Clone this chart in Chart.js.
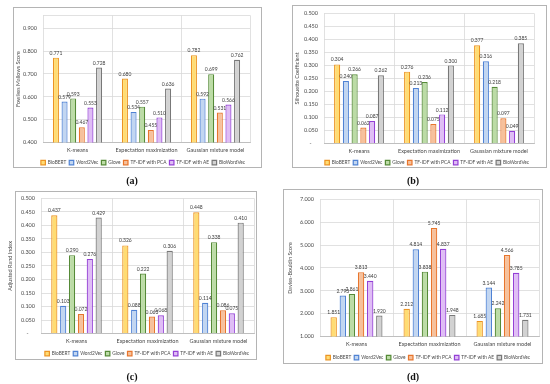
<!DOCTYPE html>
<html>
<head>
<meta charset="utf-8">
<script src="https://cdn.jsdelivr.net/npm/chart.js@4.4.0/dist/chart.umd.min.js"></script>
<style>
  html, body { margin: 0; padding: 0; background: #fff; }
  body { width: 550px; height: 384px; position: relative; overflow: hidden; font-family: Lato, sans-serif; }
  .box { position: absolute; border: 1px solid #b4b4b4; box-sizing: border-box; }
  canvas { position: absolute; }
  .cap { position: absolute; font: bold 10px 'Liberation Serif', serif; color: #111; transform: translate(-50%, -50%); }
</style>
</head>
<body>
<script>
const methods = ['BioBERT', 'Word2Vec', 'Glove', 'TF-IDF with PCA', 'TF-IDF with AE', 'BioWordVec'];
const algorithms = ['K-means', 'Expectation maximization', 'Gaussian mixture model'];

// one row per method, one column per algorithm
const fowlkesMallows = [
  [0.771, 0.680, 0.782],
  [0.579, 0.534, 0.592],
  [0.593, 0.557, 0.699],
  [0.467, 0.455, 0.531],
  [0.553, 0.510, 0.566],
  [0.728, 0.636, 0.762]
];
const silhouette = [
  [0.304, 0.276, 0.377],
  [0.240, 0.213, 0.316],
  [0.266, 0.236, 0.218],
  [0.062, 0.075, 0.097],
  [0.087, 0.112, 0.049],
  [0.262, 0.300, 0.385]
];
const adjustedRand = [
  [0.437, 0.326, 0.448],
  [0.103, 0.088, 0.114],
  [0.290, 0.222, 0.338],
  [0.072, 0.063, 0.086],
  [0.276, 0.068, 0.075],
  [0.429, 0.306, 0.410]
];
const daviesBouldin = [
  [1.851, 2.212, 1.685],
  [2.793, 4.814, 3.144],
  [2.861, 3.838, 2.242],
  [3.813, 5.745, 4.566],
  [3.440, 4.837, 3.785],
  [1.920, 1.948, 1.731]
];

const fillColors = ['#FFDC73', '#C2D6F1', '#BCDCA6', '#F6C19C', '#DFBDF5', '#D2D2D2'];
const edgeColors = ['#EC9424', '#4F82D4', '#558A37', '#E8752C', '#9440D6', '#787878'];

// layout per panel (page px): box, plot rect, y-title x, category label y, legend centre, caption
const panels = [
  { data: fowlkesMallows, title: 'Fowlkes Mallows Score', min: 0.4, max: 0.956, step: 0.1, dash: false,
    box: [13, 7, 262, 168], plot: [43, 14, 250, 143], titleX: 18, labelY: 151, legend: [143, 163], cap: ['(a)', 132, 180] },
  { data: silhouette, title: 'Silhouette Coefficient', min: 0, max: 0.5, step: 0.05, dash: true,
    box: [292, 5, 547, 168], plot: [324, 12, 534, 144], titleX: 297, labelY: 152, legend: [427, 163], cap: ['(b)', 413, 180] },
  { data: adjustedRand, title: 'Adjusted Rand Index', min: 0, max: 0.5, step: 0.05, dash: true,
    box: [15, 191, 257, 360], plot: [41, 197, 254, 334], titleX: 10, labelY: 342, legend: [147, 354], cap: ['(c)', 132, 376] },
  { data: daviesBouldin, title: 'Davies-Bouldin Score', min: 1, max: 7, step: 1, dash: false,
    box: [283, 189, 543, 364], plot: [320, 198, 539, 337], titleX: 290, labelY: 345, legend: [428, 358], cap: ['(d)', 413, 376] }
];

const valueLabels = {
  id: 'valueLabels',
  afterDatasetsDraw(chart) {
    const ctx = chart.ctx;
    ctx.save();
    ctx.font = '5px Lato';
    ctx.fillStyle = '#404040';
    ctx.textAlign = 'center';
    ctx.textBaseline = 'bottom';
    chart.data.datasets.forEach((ds, i) => {
      chart.getDatasetMeta(i).data.forEach((bar, j) => {
        ctx.fillText(ds.data[j].toFixed(3), bar.x, bar.y - 2);
      });
    });
    ctx.restore();
  }
};

const shiftLegend = {
  id: 'shiftLegend',
  afterLayout(chart, args, opts) {
    if (!chart.legend || !opts.dx) return;
    chart.legend.left += opts.dx;
    chart.legend.right += opts.dx;
  }
};

const TICK = 5.5, LEG = 4.8, LEG_BOX = 4.5, LEG_PAD = 3;

panels.forEach(p => {
  const [bl, bt, br, bb] = p.box;
  const box = document.createElement('div');
  box.className = 'box';
  Object.assign(box.style, { left: bl + 'px', top: bt + 'px', width: (br - bl) + 'px', height: (bb - bt) + 'px' });
  document.body.appendChild(box);

  const [pl, pt, pr, pb] = p.plot;
  const cl = pl - 42, ct = pt - 8, padR = 6;
  const itemH = Math.max(LEG, LEG_BOX);
  const legendTop = p.legend[1] - LEG_PAD - itemH / 2;
  const hx = legendTop - pb;
  const cw = Math.round(pr + padR - cl);
  const ch = Math.round(legendTop + itemH + LEG_PAD + 10 - ct);
  const lh = TICK * 1.2;

  const cv = document.createElement('canvas');
  cv.width = cw; cv.height = ch;
  Object.assign(cv.style, { left: cl + 'px', top: ct + 'px', width: cw + 'px', height: ch + 'px' });
  document.body.appendChild(cv);

  const dx = p.legend[0] - (cl + (cw - padR) / 2);

  new Chart(cv, {
    type: 'bar',
    data: {
      labels: algorithms,
      datasets: methods.map((m, i) => ({
        label: m,
        data: p.data[i],
        backgroundColor: fillColors[i],
        borderColor: edgeColors[i],
        borderWidth: 1.2,
        categoryPercentage: 0.75,
        barPercentage: 0.7
      }))
    },
    options: {
      responsive: false,
      animation: false,
      devicePixelRatio: 1,
      layout: { padding: { left: 0, top: 8, right: padR, bottom: 0 } },
      plugins: {
        legend: {
          position: 'bottom',
          labels: {
            boxWidth: LEG_BOX, boxHeight: LEG_BOX, padding: LEG_PAD,
            color: '#4a4a4a', font: { family: 'Lato', size: LEG }
          }
        },
        tooltip: { enabled: false },
        shiftLegend: { dx }
      },
      scales: {
        x: {
          grid: { offset: true, color: '#d9d9d9', lineWidth: 0.8, drawTicks: false },
          border: { color: '#bfbfbf' },
          ticks: { color: '#4a4a4a', font: { family: 'Lato', size: TICK }, padding: p.labelY - pb - lh / 2, maxRotation: 0 },
          afterFit: s => { s.height = hx; }
        },
        y: {
          min: p.min, max: p.max,
          grid: { color: '#d9d9d9', lineWidth: 0.8, drawTicks: false },
          border: { display: false },
          ticks: {
            stepSize: p.step, padding: 6, color: '#4a4a4a', font: { family: 'Lato', size: TICK },
            callback: v => {
              const k = v / p.step;
              if (Math.abs(k - Math.round(k)) > 1e-6) return '';
              if (Math.abs(v) < 1e-9 && p.dash) return '-\u2007\u2007';
              return Number(v).toFixed(3);
            }
          },
          title: {
            display: true, text: p.title, color: '#4a4a4a',
            font: { family: 'Lato', size: TICK },
            padding: { top: p.titleX - cl - lh / 2, bottom: 0 }
          },
          afterFit: s => { s.width = pl - cl; }
        }
      }
    },
    plugins: [valueLabels, shiftLegend]
  });

  const cap = document.createElement('div');
  cap.className = 'cap';
  cap.textContent = p.cap[0];
  Object.assign(cap.style, { left: p.cap[1] + 'px', top: p.cap[2] + 'px' });
  document.body.appendChild(cap);
});
</script>
</body>
</html>
